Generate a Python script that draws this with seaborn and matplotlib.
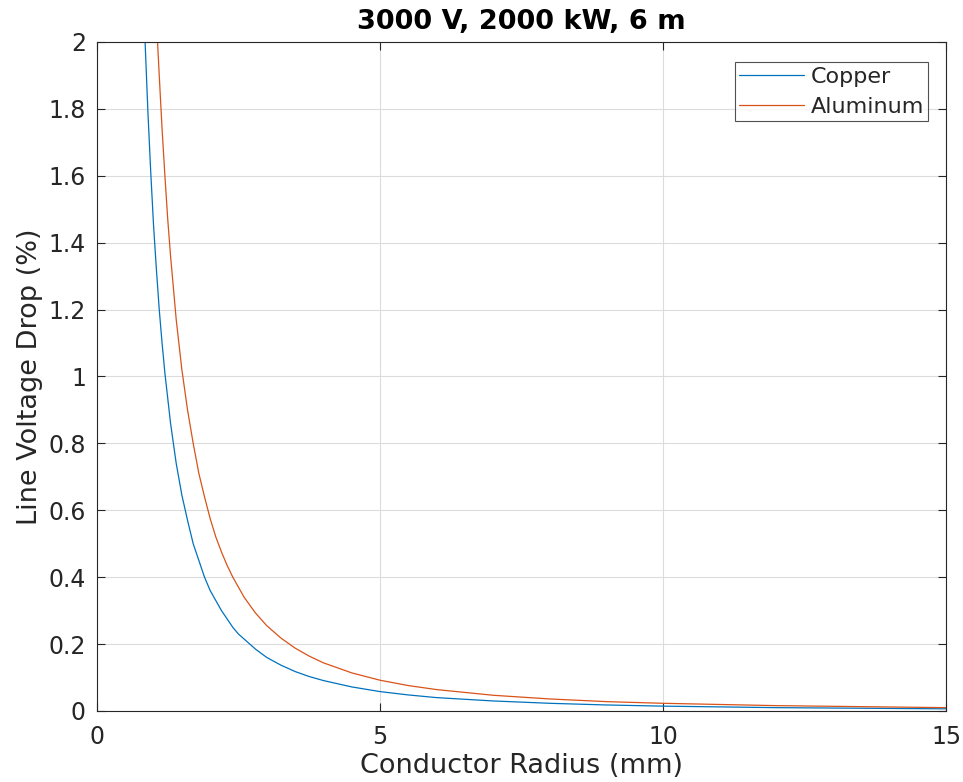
import numpy as np
import pandas as pd
import matplotlib
matplotlib.use("Agg")
import matplotlib.pyplot as plt
import seaborn as sns

title = "3000 V, 2000 kW, 6 m"
series_names = ["Copper", "Aluminum"]

copper_radius = [0.85, 0.9, 0.95, 1.0, 1.05, 1.1, 1.15, 1.2, 1.3, 1.4, 1.5, 1.6, 1.7, 1.8, 1.9,
                 2.0, 2.1, 2.2, 2.3, 2.4, 2.5, 2.6, 2.8, 3.0, 3.25, 3.5, 3.75, 4.0, 4.5, 5.0,
                 5.5, 6.0, 7.0, 8.0, 9.0, 10.0, 12.0, 15.0]
copper_drop = [2.0, 1.79, 1.61, 1.45, 1.32, 1.20, 1.10, 1.01, 0.86, 0.74, 0.645, 0.57, 0.50,
               0.45, 0.40, 0.36, 0.33, 0.30, 0.275, 0.25, 0.23, 0.215, 0.185, 0.16, 0.137,
               0.118, 0.103, 0.091, 0.072, 0.058, 0.048, 0.040, 0.030, 0.023, 0.018, 0.0145,
               0.010, 0.0065]

aluminum_radius = [1.07, 1.1, 1.15, 1.2, 1.25, 1.3, 1.4, 1.5, 1.6, 1.7, 1.8, 1.9, 2.0, 2.1,
                   2.2, 2.3, 2.4, 2.5, 2.6, 2.8, 3.0, 3.25, 3.5, 3.75, 4.0, 4.5, 5.0, 5.5,
                   6.0, 7.0, 8.0, 9.0, 10.0, 12.0, 15.0]
aluminum_drop = [2.0, 1.90, 1.74, 1.60, 1.47, 1.36, 1.17, 1.02, 0.90, 0.80, 0.71, 0.64, 0.575,
                 0.52, 0.475, 0.435, 0.40, 0.37, 0.34, 0.293, 0.255, 0.218, 0.188, 0.164,
                 0.144, 0.114, 0.092, 0.076, 0.064, 0.047, 0.036, 0.028, 0.023, 0.016, 0.010]

x_ticks = [0, 5, 10, 15]
y_ticks = [0, 0.2, 0.4, 0.6, 0.8, 1.0, 1.2, 1.4, 1.6, 1.8, 2.0]
y_tick_labels = ["0", "0.2", "0.4", "0.6", "0.8", "1", "1.2", "1.4", "1.6", "1.8", "2"]

df = pd.concat([
    pd.DataFrame({"radius": copper_radius, "drop": copper_drop, "material": series_names[0]}),
    pd.DataFrame({"radius": aluminum_radius, "drop": aluminum_drop, "material": series_names[1]}),
], ignore_index=True)

sns.set_theme(style="white")
plt.rcParams['font.family'] = ['DejaVu Sans']

fig = plt.figure(figsize=(9.63, 7.82), dpi=100)
ax = fig.add_axes([0.1007, 0.0908, 0.8817, 0.8555])

sns.lineplot(data=df, x="radius", y="drop", hue="material", sort=False,
             palette={"Copper": "#0072BD", "Aluminum": "#D95319"},
             linewidth=0.9, ax=ax, estimator=None)

ax.set_xlim(0, 15)
ax.set_ylim(0, 2)
ax.set_xticks(x_ticks)
ax.set_yticks(y_ticks)
ax.set_yticklabels(y_tick_labels)
ax.grid(True, color="#DCDCDC", linewidth=0.8)
ax.set_axisbelow(True)

for s in ax.spines.values():
    s.set_color("#262626")
    s.set_linewidth(0.8)
ax.tick_params(direction="in", length=6, width=0.8, colors="#262626",
               top=True, right=True, bottom=True, left=True, labelsize=17, pad=8)
ax.tick_params(axis="x", pad=10)

ax.set_xlabel("Conductor Radius (mm)", fontsize=19.5, color="#262626", labelpad=3)
ax.set_ylabel("Line Voltage Drop (%)", fontsize=19.5, color="#262626", labelpad=4)
ax.set_title(title, fontsize=19.5, fontweight="bold", color="black", pad=9)

leg = ax.legend(loc="upper right", fontsize=16, frameon=True, fancybox=False,
                borderpad=0.2, handlelength=2.9, handletextpad=0.3, labelspacing=0.45,
                borderaxespad=0, bbox_to_anchor=(0.979, 0.97))
leg.get_frame().set_edgecolor("#262626")
leg.get_frame().set_linewidth(0.8)
leg.set_title(None)

fig.savefig("out.png", dpi=100)
